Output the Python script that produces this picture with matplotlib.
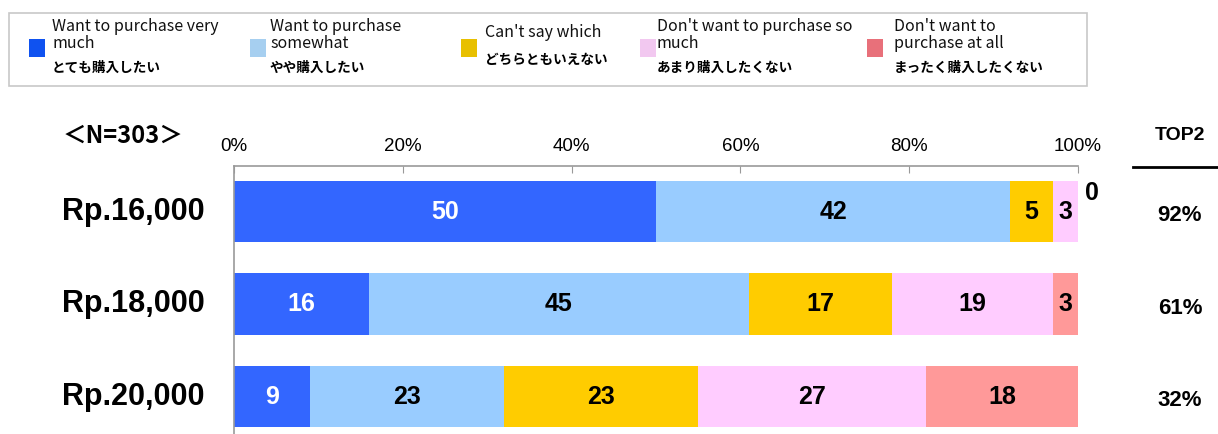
import matplotlib
matplotlib.use('Agg')
import matplotlib.pyplot as plt
from matplotlib.patches import Rectangle
import numpy as np

plt.rcParams['font.family'] = ['Liberation Sans', 'Noto Sans CJK JP', 'DejaVu Sans']

# price points and answer shares (%)
prices = ['Rp.16,000', 'Rp.18,000', 'Rp.20,000']
very_much = [50, 16, 9]
somewhat = [42, 45, 23]
cant_say = [5, 17, 23]
not_so_much = [3, 19, 27]
not_at_all = [0, 3, 18]

labels_en = ['Want to purchase very\nmuch', 'Want to purchase\nsomewhat', "Can't say which",
             "Don't want to purchase so\nmuch", "Don't want to\npurchase at all"]
labels_jp = ['とても購入したい', 'やや購入したい', 'どちらともいえない',
             'あまり購入したくない', 'まったく購入したくない']
n_total = 303

bar_colors = ['#3366FF', '#99CCFF', '#FFCC00', '#FFCCFF', '#FF9999']
key_colors = ['#0F52F0', '#A6CFF0', '#E8C000', '#F2C8F0', '#E8707A']

W, H = 1218, 434
fig = plt.figure(figsize=(W / 100, H / 100), dpi=100)


def fx(x):
    return x / W


def fy(y):
    return 1 - y / H


ax = fig.add_axes([fx(234), 0, fx(1078) - fx(234), (H - 166) / H])

series = [very_much, somewhat, cant_say, not_so_much, not_at_all]
ypos = np.arange(len(prices))
left = np.zeros(len(prices))
for k, (vals, col) in enumerate(zip(series, bar_colors)):
    vals = np.array(vals, dtype=float)
    ax.barh(ypos, vals, left=left, height=0.66, color=col, edgecolor='none')
    for i, v in enumerate(vals):
        if v > 0:
            ax.text(left[i] + v / 2, ypos[i], f'{v:.0f}', ha='center', va='center',
                    fontsize=18, fontweight='bold',
                    color='white' if k == 0 else 'black')
        else:
            # empty segment: value sits just past the bar end
            ax.text(left[i] + 0.8, ypos[i] - 0.2, f'{v:.0f}', ha='left', va='center',
                    fontsize=18, fontweight='bold', color='black', clip_on=False)
    left += vals

ax.set_xlim(0, 100)
ax.set_ylim(2.405, -0.492)
ax.set_yticks([])
ax.xaxis.tick_top()
ax.set_xticks(np.arange(0, 101, 20))
ax.set_xticklabels([f'{t}%' for t in range(0, 101, 20)])
ax.tick_params(axis='x', direction='in', length=5, color='#999999', pad=8,
               labelsize=13.5)
for s in ['right', 'bottom']:
    ax.spines[s].set_visible(False)
for s in ['top', 'left']:
    ax.spines[s].set_color('#999999')
    ax.spines[s].set_linewidth(1.2)

# price labels on the left
for i, p in enumerate(prices):
    ax.text(-0.035, i, p, transform=ax.get_yaxis_transform(), ha='right', va='center',
            fontsize=22, fontweight='bold')

fig.text(fx(123), fy(136), f'＜N={n_total}＞', ha='center', va='center',
         fontsize=17, fontweight='bold', family=['Noto Sans CJK JP', 'DejaVu Sans'])

# TOP2 column
top2 = np.array(very_much) + np.array(somewhat)
fig.text(fx(1180), fy(136), 'TOP2', ha='center', va='center', fontsize=14, fontweight='bold')
fig.add_artist(plt.Line2D([fx(1133), fx(1218)], [fy(167), fy(167)], color='black', lw=2))
for i, t in enumerate(top2):
    yc = ax.transData.transform((0, ypos[i]))[1] / H
    fig.text(fx(1180), yc - 4 / H, f'{t}%', ha='center', va='center',
             fontsize=16, fontweight='bold')

# legend panel
fig.add_artist(Rectangle((fx(9), fy(86)), fx(1087) - fx(9), (86 - 13) / H,
                         facecolor='white', edgecolor='#C8C8C8', lw=1.2))
key_x = [29, 250, 461, 640, 867]
text_x = [52, 270, 485, 657, 894]
for k in range(5):
    fig.add_artist(Rectangle((fx(key_x[k]), fy(57)), 16 / W, 18 / H,
                             facecolor=key_colors[k], edgecolor='none'))
    two_line = '\n' in labels_en[k]
    fig.text(fx(text_x[k]), fy(18 if two_line else 24), labels_en[k], ha='left', va='top',
             fontsize=11.5, linespacing=1.0,
             family=['Noto Sans CJK JP', 'DejaVu Sans'], color='#111111')
    fig.text(fx(text_x[k]), fy(68 if two_line else 60), labels_jp[k], ha='left', va='center',
             fontsize=9.8, fontweight='bold',
             family=['Noto Sans CJK JP', 'DejaVu Sans'])

fig.savefig('out.png', dpi=100, facecolor='white')
